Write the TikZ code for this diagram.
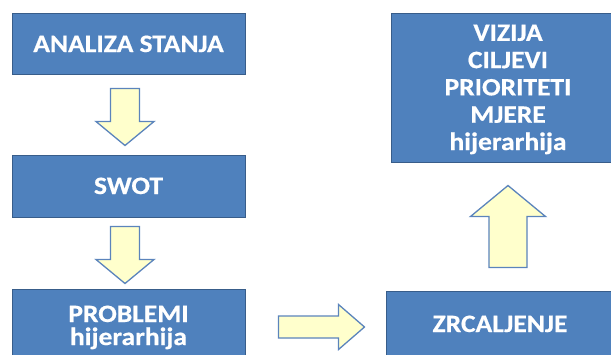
\documentclass[tikz,border=0pt]{standalone}
\usepackage{fontspec}
\setmainfont{Carlito}[FakeStretch=1.1, BoldFeatures={FakeBold=0.6}]
\usetikzlibrary{calc}
\definecolor{boxblue}{HTML}{4F81BD}
\definecolor{boxedge}{HTML}{385D8A}
\definecolor{arrowfill}{HTML}{FFFFCC}
\definecolor{arrowedge}{HTML}{5B84BC}
\newcommand{\blockarrow}[6]{%
  \draw[barrow, shift={#1}, rotate=#2] (0,-#5) -- (#3,-#5) -- (#3,-#6) -- ({#3+#4},0) -- (#3,#6) -- (#3,#5) -- (0,#5) -- cycle;}
\begin{document}
\begin{tikzpicture}[x=1pt,y=-1pt,
  box/.style={draw=boxedge, line width=1pt, fill=boxblue, text=white,
    font=\fontsize{25}{27.3}\selectfont\bfseries, align=center, inner sep=0pt},
  barrow/.style={draw=arrowedge, line width=1.3pt, fill=arrowfill, line join=miter}]
\useasboundingbox (0,0) rectangle (611,354);
\begin{scope}
\clip (0,0) rectangle (611,354);
\node[box, minimum width=233, minimum height=61, text height=17, text depth=0] (analiza) at (128.5,43.5) {ANALIZA STANJA};
\node[box, minimum width=233, minimum height=62, text height=16, text depth=0] (swot) at (128.5,186) {SWOT};
\node[box, minimum width=233, minimum height=66, text height=46, text depth=0,
      font=\fontsize{25}{23}\selectfont\bfseries] (problemi) at (128.5,322) {PROBLEMI\\hijerarhija};
\node[box, minimum width=228, minimum height=66, text height=16, text depth=0] (zrcaljenje) at (500,324) {ZRCALJENJE};
\node[box, minimum width=234, minimum height=149, text height=125, text depth=0] (vizija) at (508,87.5) {VIZIJA\\CILJEVI\\PRIORITETI\\MJERE\\hijerarhija};
\end{scope}
\blockarrow{{($(analiza.south)+(-3.5,14)$)}}{-90}{33}{24}{14.5}{29}
\blockarrow{{($(swot.south)+(-3.5,9)$)}}{-90}{33}{24}{14.5}{29}
\blockarrow{{($(problemi.east)+(33,5)$)}}{0}{60}{26}{11}{22.5}
\blockarrow{{($(zrcaljenje.north)+(8,-23)$)}}{90}{51}{31}{19}{37.5}
\end{tikzpicture}
\end{document}
